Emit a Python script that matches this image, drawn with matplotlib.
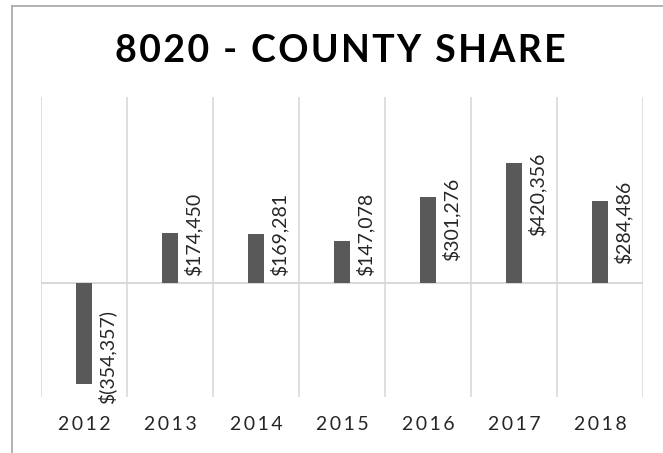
import matplotlib.pyplot as plt
from matplotlib.lines import Line2D

years = ['2012', '2013', '2014', '2015', '2016', '2017', '2018']
values = [-354357, 174450, 169281, 147078, 301276, 420356, 284486]
labels = ['$(354,357)', '$174,450', '$169,281', '$147,078', '$301,276', '$420,356', '$284,486']
title = '8020 - COUNTY SHARE'

plt.rcParams['font.family'] = ['Lato', 'DejaVu Sans']

W, H = 663, 453
fig = plt.figure(figsize=(W / 100, H / 100), dpi=100)
ax = fig.add_axes([41 / W, 1 - 397 / H, (643 - 41) / W, (397 - 97) / H])

x = list(range(len(years)))
ax.bar(x, values, width=0.18, color='#595959', zorder=3)

# vertical separators between categories, zero line
for b in [i - 0.5 for i in range(len(years) + 1)]:
    ax.axvline(b, color='#d9d9d9', lw=1.2, zorder=1)
ax.axhline(0, color='#d9d9d9', lw=1.5, zorder=2)

for xi, v, lab in zip(x, values, labels):
    if v >= 0:
        yc = max(0.74 * v, 168000)
    else:
        yc = 0.73 * v
    ax.text(xi + 0.09 + 0.07, yc, lab, rotation=90, ha='left', va='center',
            fontsize=14, color='#262626', zorder=4)

ax.set_xlim(-0.5, len(years) - 0.5)
ax.set_ylim(-398000, 649000)
ax.set_yticks([])
ax.set_xticks(x)
ax.set_xticklabels(['\u2009'.join(y) for y in years], fontsize=14, color='#262626')
ax.tick_params(axis='x', length=0, pad=14)
for s in ax.spines.values():
    s.set_visible(False)

fig.text(340 / W, 1 - 51 / H, '\u200a'.join(title), ha='center', va='center',
         fontsize=27, fontweight='bold', color='black')

# outer chart border (top and left visible only)
fig.add_artist(Line2D([12 / W, 1], [1 - 6 / H, 1 - 6 / H], color='#a6a6a6', lw=1.2))
fig.add_artist(Line2D([12 / W, 12 / W], [0, 1 - 6 / H], color='#a6a6a6', lw=1.2))

fig.savefig('out.png', dpi=100)
